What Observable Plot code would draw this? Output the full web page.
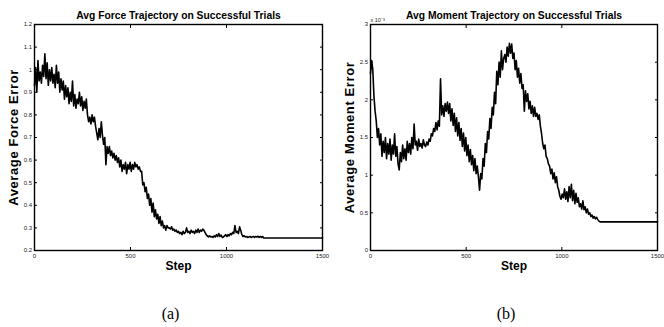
<!DOCTYPE html>
<html><head><meta charset="utf-8">
<script src="https://cdn.jsdelivr.net/npm/d3@7"></script>
<script src="https://cdn.jsdelivr.net/npm/@observablehq/plot@0.6"></script>
<style>
body{margin:0;background:#fff;}
#row{display:flex;width:664px;height:327px;overflow:hidden;}
</style></head><body><div id="row"></div>
<script>
// sampling interval (steps) of the recorded trajectories
const STEP = 6;
const stepTicks = [0, 500, 1000, 1500];
const forceYTicks = [0.2, 0.3, 0.4, 0.5, 0.6, 0.7, 0.8, 0.9, 1, 1.1, 1.2];
const momentYTicks = [0, 0.5, 1, 1.5, 2, 2.5, 3];

// Avg force error, steps 0..1200 every 6 steps
const forceValues = [
  0.93, 1.01, 0.90, 1.04, 0.95, 0.99, 0.94, 1.02, 0.97, 1.07, 0.96, 1.03, 0.93, 1.00, 0.95, 1.01, 0.94,
  0.98, 0.92, 1.02, 0.94, 0.99, 0.90, 0.96, 0.91, 0.95, 0.87, 0.93, 0.88, 0.92, 0.85, 0.90, 0.86, 0.95,
  0.84, 0.89, 0.83, 0.87, 0.85, 0.90, 0.84, 0.88, 0.82, 0.86, 0.83, 0.87, 0.80, 0.77, 0.79, 0.76, 0.80,
  0.77, 0.79, 0.75, 0.72, 0.69, 0.74, 0.70, 0.77, 0.71, 0.67, 0.70, 0.58, 0.66, 0.63, 0.66, 0.62,
  0.64, 0.61, 0.63, 0.60, 0.62, 0.59, 0.61, 0.57, 0.60, 0.55, 0.58, 0.56, 0.59, 0.54, 0.58, 0.56, 0.59, 0.55, 0.58, 0.56, 0.59, 0.57, 0.58, 0.56, 0.57, 0.55,
  0.55, 0.49, 0.50, 0.46, 0.48, 0.43, 0.45, 0.40, 0.43, 0.37, 0.41, 0.35, 0.38, 0.34, 0.36, 0.32, 0.35, 0.31, 0.33, 0.30, 0.31, 0.29, 0.31, 0.30,
  0.30, 0.295, 0.305, 0.29, 0.295, 0.285, 0.29, 0.28, 0.285, 0.275, 0.28, 0.27, 0.285, 0.275, 0.28, 0.30, 0.28, 0.285, 0.275, 0.29, 0.28, 0.285, 0.275, 0.29, 0.28, 0.295, 0.28,
  0.29, 0.285, 0.295, 0.29, 0.28, 0.27, 0.265, 0.26, 0.265, 0.26, 0.262, 0.258, 0.265, 0.26, 0.27, 0.262, 0.275, 0.262, 0.268, 0.258, 0.26, 0.265, 0.27, 0.262, 0.27, 0.265, 0.275, 0.27, 0.28, 0.275,
  0.31, 0.28, 0.285, 0.275, 0.305, 0.29, 0.27, 0.262, 0.265, 0.26, 0.262, 0.258, 0.26, 0.262, 0.258, 0.26, 0.262, 0.258, 0.262, 0.26, 0.263, 0.258, 0.262, 0.258, 0.262, 0.255, 0.255
];
const forceFinal = 0.255; // value held from step 1200 to 1500

// Avg moment error (x 10^-3), steps 0..1200 every 6 steps
const momentValues = [
  2.35, 2.52, 2.40, 2.05, 1.85, 1.72, 1.50, 1.62, 1.40, 1.55, 1.25, 1.45, 1.30, 1.50, 1.22, 1.42, 1.28,
  1.48, 1.20, 1.40, 1.28, 1.55, 1.25, 1.38, 1.15, 1.07, 1.30, 1.18, 1.40, 1.22, 1.35, 1.20, 1.45, 1.30,
  1.42, 1.28, 1.50, 1.35, 1.68, 1.40, 1.45, 1.33, 1.48, 1.38, 1.42, 1.36, 1.47, 1.40, 1.38, 1.44, 1.40,
  1.48, 1.45, 1.55, 1.52, 1.62, 1.58, 1.70, 1.60, 1.72, 1.65, 2.28, 1.80, 1.92, 1.78, 1.95, 1.85,
  1.97, 1.82, 1.95, 1.72, 1.88, 1.66, 1.82, 1.58, 1.76, 1.52, 1.70, 1.46, 1.62, 1.38, 1.56, 1.32, 1.50, 1.26, 1.40, 1.18, 1.34, 1.14, 1.26, 1.06, 1.22, 1.02,
  1.12, 0.98, 0.80, 1.02, 0.95, 1.22, 1.12, 1.42, 1.30, 1.58, 1.48, 1.75, 1.62, 1.90, 1.80, 2.10, 1.95, 2.38, 2.20, 2.50, 2.30, 2.65, 2.40, 2.55,
  2.60, 2.50, 2.70, 2.58, 2.75, 2.62, 2.74, 2.55, 2.62, 2.40, 2.52, 2.30, 2.42, 2.22, 2.35, 2.15, 2.20, 1.85, 2.12, 1.98, 2.08, 1.88, 1.98, 1.82, 1.92, 1.78, 1.90,
  1.78, 1.82, 1.74, 1.80, 1.65, 1.55, 1.42, 1.35, 1.40, 1.25, 1.22, 1.15, 1.12, 1.02, 1.08, 0.95, 1.03, 0.90, 0.98, 0.85, 0.80, 0.72, 0.68, 0.75, 0.70, 0.82, 0.68, 0.78, 0.65, 0.85,
  0.70, 0.88, 0.66, 0.80, 0.62, 0.76, 0.64, 0.70, 0.58, 0.62, 0.55, 0.66, 0.54, 0.58, 0.50, 0.55, 0.48, 0.50, 0.45, 0.47, 0.43, 0.45, 0.42, 0.44, 0.41, 0.39, 0.38
];
const momentFinal = 0.38;

function rows(values, finalValue) {
  const r = values.map((v, i) => ({step: i * STEP, value: v}));
  r.push({step: 1500, value: finalValue});
  return r;
}

const fmt = d3.format("~g");
const SANS = "'Liberation Sans', Arial, Helvetica, sans-serif";

function chart({data, yDomain, yTicks, title, ylabel, caption, marginLeft, marginRight, exponent}) {
  const marks = [
    Plot.line(data, {x: "step", y: "value", stroke: "black", strokeWidth: 1.6}),
    Plot.frame({stroke: "black", strokeWidth: 1.4}),
    Plot.axisX(stepTicks, {anchor: "bottom", tickSize: -3, tickPadding: 6, tickFormat: fmt, fontSize: 6, fill: "#222", label: null}),
    Plot.axisX(stepTicks, {anchor: "top", tickSize: -3, tickPadding: 0, tickFormat: () => "", label: null}),
    Plot.axisY(yTicks, {anchor: "left", tickSize: -3, tickPadding: 5.5, tickFormat: fmt, fontSize: 6, fill: "#222", label: null}),
    Plot.axisY(yTicks, {anchor: "right", tickSize: -3, tickPadding: 0, tickFormat: () => "", label: null}),
    Plot.text([title], {frameAnchor: "top", lineAnchor: "bottom", dy: -5.7, fontWeight: "bold", fontSize: 10.3}),
    Plot.text(["Step"], {frameAnchor: "bottom", lineAnchor: "top", dy: 11, fontWeight: "bold", fontSize: 12}),
    Plot.text([ylabel], {frameAnchor: "left", textAnchor: "middle", lineAnchor: "middle", rotate: -90, dx: -20.3, fontWeight: "bold", fontSize: 13}),
    Plot.text([caption], {frameAnchor: "bottom", lineAnchor: "middle", dy: 63, dx: -8, fontFamily: "'Liberation Serif', 'Times New Roman', serif", fontSize: 16})
  ];
  if (exponent) {
    marks.push(Plot.text([exponent], {frameAnchor: "top-left", textAnchor: "start", lineAnchor: "bottom", dy: -3, dx: 0, fontSize: 5.5, fill: "#222"}));
  }
  const svg = Plot.plot({
    width: 332,
    height: 327,
    marginTop: 24,
    marginBottom: 77,
    marginLeft,
    marginRight,
    style: {fontFamily: SANS, background: "white", color: "black"},
    x: {domain: [0, 1500]},
    y: {domain: yDomain},
    marks
  });
  svg.querySelectorAll("text").forEach(t => {
    if (t.textContent === ylabel) t.style.letterSpacing = "0.6px";
  });
  return svg;
}

const row = document.getElementById("row");
row.appendChild(chart({
  data: rows(forceValues, forceFinal),
  yDomain: [0.2, 1.2],
  yTicks: forceYTicks,
  title: "Avg Force Trajectory on Successful Trials",
  ylabel: "Average Force Error",
  caption: "(a)",
  marginLeft: 34,
  marginRight: 10
}));
row.appendChild(chart({
  data: rows(momentValues, momentFinal),
  yDomain: [0, 3],
  yTicks: momentYTicks,
  title: "Avg Moment Trajectory on Successful Trials",
  ylabel: "Average Moment Error",
  caption: "(b)",
  marginLeft: 38,
  marginRight: 7,
  exponent: "x 10\u207B\u00B3"
}));
</script>
</body></html>
